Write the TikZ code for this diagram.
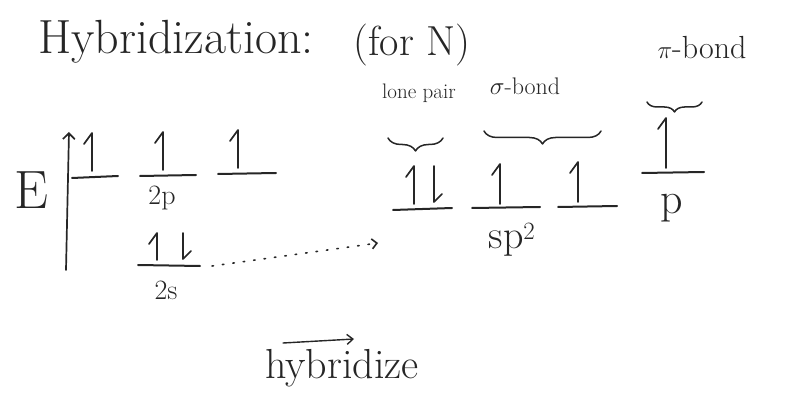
\documentclass[tikz,border=0pt]{standalone}
\usetikzlibrary{arrows.meta,decorations.pathreplacing}
\begin{document}
\begin{tikzpicture}[x=1pt,y={(0,-1pt)},line cap=round,line join=round,
  ink/.style={draw=black!85,line width=1.7pt},
  lvl/.style={ink,line width=2pt},
  lbl/.style={inner sep=0pt,text=black!85},
  upspin/.pic={\draw[ink] (0,0) -- (0,-#1) -- (-8,-#1+11);},
  downspin/.pic={\draw[ink] (0,-#1) -- (0,0) -- (8,-8);},
  brc/.style={ink,line width=1.5pt,decorate,decoration={brace,amplitude=13pt,mirror}}]
\useasboundingbox (0,0) rectangle (786,395);
% title
\node[lbl,font=\fontsize{48}{50}\selectfont] (title) at (176,42) {Hybridization:};
\node[lbl,font=\fontsize{42}{44}\selectfont] (forN) at (412,45) {(for N)};
% energy axis
\node[lbl,font=\fontsize{54}{56}\selectfont] (E) at (31,190) {E};
\coordinate (e0) at (66,270);
\coordinate (e1) at (69,132);
\draw[ink,-{Straight Barb[length=6pt,width=12pt]}] (e0) -- (e1);
% 2p levels
\coordinate (p1a) at (72,178); \coordinate (p1b) at (118,176);
\coordinate (p2a) at (140,176); \coordinate (p2b) at (196,175);
\coordinate (p3a) at (218,174); \coordinate (p3b) at (276,173);
\draw[lvl] (p1a) -- (p1b);
\draw[lvl] (p2a) -- (p2b);
\draw[lvl] (p3a) -- (p3b);
\pic at (92,171) {upspin=38};
\pic at (163,170) {upspin=38};
\pic at (238,168) {upspin=38};
\node[lbl,font=\fontsize{28}{30}\selectfont] (lab2p) at (162,198) {2p};
% 2s level
\coordinate (sa) at (138,265); \coordinate (sb) at (200,266);
\draw[lvl] (sa) -- (sb);
\pic at (157,260) {upspin=27};
\pic at (183,259) {downspin=26};
\node[lbl,font=\fontsize{28}{30}\selectfont] (lab2s) at (166,290) {2s};
% dotted hybridization path
\coordinate (d0) at (212,266);
\coordinate (d1) at (378,243);
\draw[ink,line width=1.6pt,dash pattern=on 1.5pt off 9pt,-{Straight Barb[length=5pt,width=10pt]}] (d0) -- (d1);
% sp2 levels
\coordinate (h1a) at (393,210); \coordinate (h1b) at (452,208);
\coordinate (h2a) at (472,208); \coordinate (h2b) at (540,207);
\coordinate (h3a) at (558,207); \coordinate (h3b) at (617,206);
\draw[lvl] (h1a) -- (h1b);
\draw[lvl] (h2a) -- (h2b);
\draw[lvl] (h3a) -- (h3b);
\pic at (414,204) {upspin=38};
\pic at (434,202) {downspin=36};
\pic at (500,204) {upspin=40};
\pic at (578,202) {upspin=40};
\node[lbl,font=\fontsize{40}{42}\selectfont] (labsp) at (512,240) {sp$^2$};
% p level
\coordinate (pa) at (642,173); \coordinate (pb) at (704,172);
\draw[lvl] (pa) -- (pb);
\pic at (666,168) {upspin=50};
\node[lbl,font=\fontsize{44}{46}\selectfont] (labp) at (672,208) {p};
% braces and labels
\coordinate (b1a) at (388,138); \coordinate (b1b) at (443,138);
\coordinate (b2a) at (484,131); \coordinate (b2b) at (601,131);
\coordinate (b3a) at (647,102); \coordinate (b3b) at (702,102);
\draw[brc] (b1a) -- (b1b);
\draw[brc] (b2a) -- (b2b);
\draw[brc,decoration={brace,amplitude=10pt,mirror}] (b3a) -- (b3b);
\node[lbl,font=\fontsize{21}{23}\selectfont] (lp) at (419,93) {lone pair};
\node[lbl,font=\fontsize{24}{26}\selectfont] (sig) at (525,86) {$\sigma$-bond};
\node[lbl,font=\fontsize{32}{34}\selectfont] (pib) at (702,48) {$\pi$-bond};
% hybridize
\node[lbl,font=\fontsize{42}{44}\selectfont] (hyb) at (342,368) {hybridize};
\coordinate (ha) at (283,343);
\coordinate (hb) at (354,339);
\draw[ink,line width=1.4pt,-{Straight Barb[length=6pt,width=10pt]}] (ha) -- (hb);
\end{tikzpicture}
\end{document}
